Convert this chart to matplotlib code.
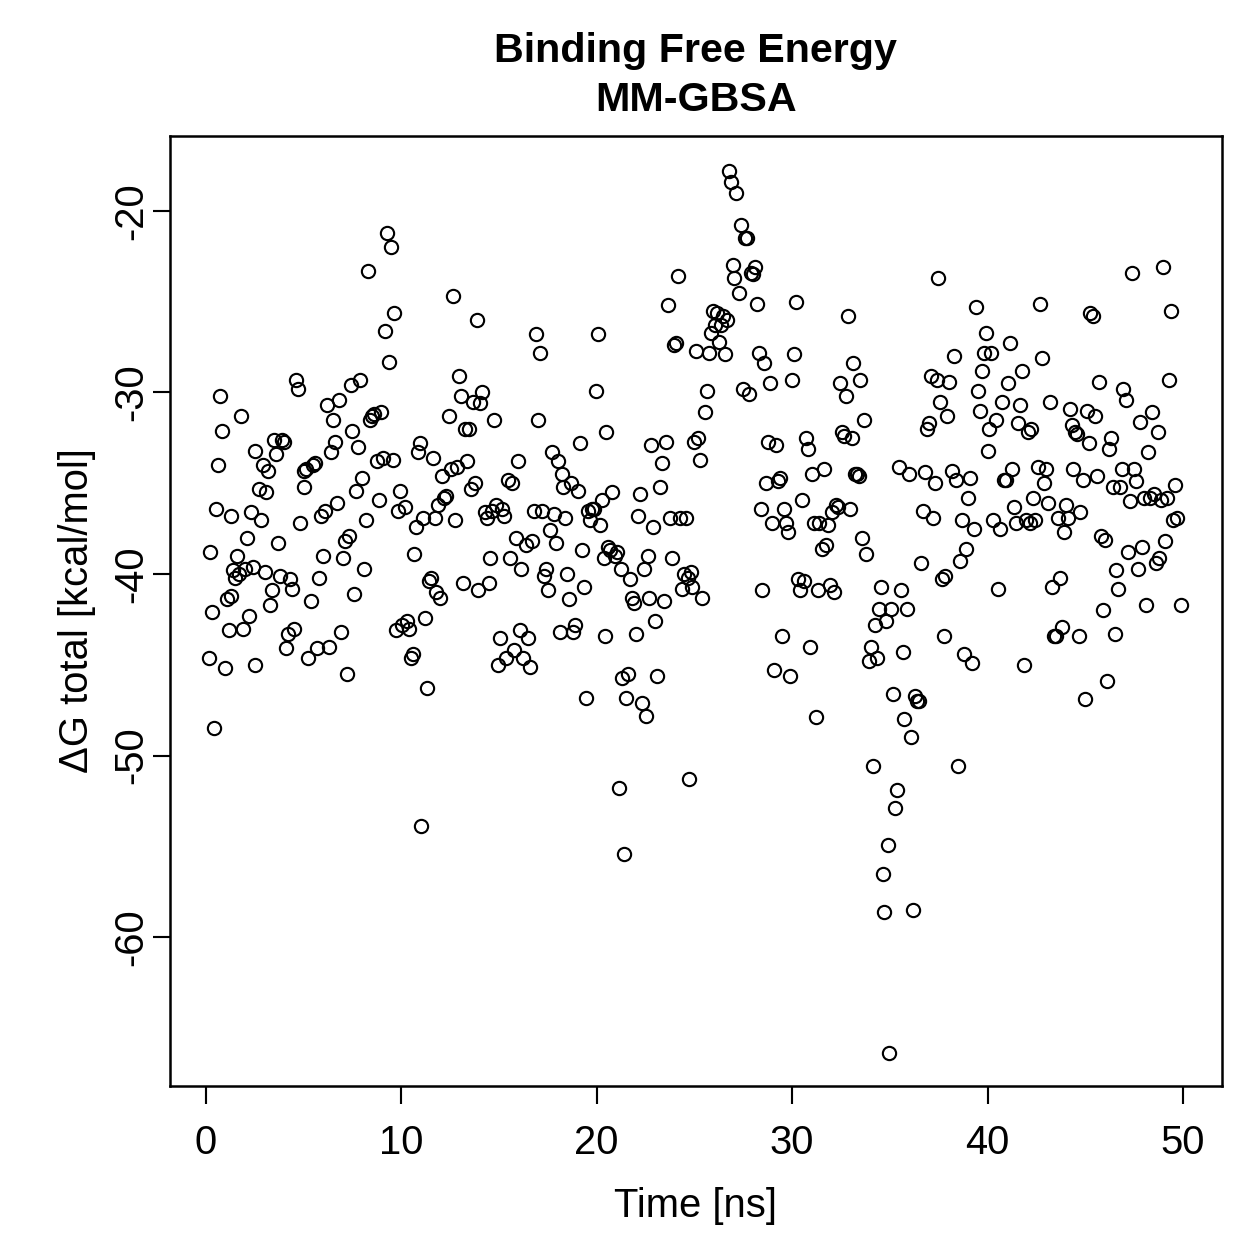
import matplotlib
matplotlib.use("Agg")
import matplotlib.pyplot as plt
import numpy as np

plt.rcParams['font.family'] = ['Liberation Sans', 'DejaVu Sans']

# time [ns] and binding free energy [kcal/mol]
time_ns = [
    0.15, 0.2, 0.3, 0.4, 0.5, 0.6, 0.7, 0.8, 1.0, 1.1, 1.2, 1.3, 1.3, 1.4, 1.5, 1.6, 1.7, 1.8, 1.9, 2.0,
    2.1, 2.2, 2.3, 2.4, 2.5, 2.5, 2.7, 2.8, 2.9, 3.0, 3.1, 3.2, 3.3, 3.4, 3.5, 3.6, 3.7, 3.8, 3.9, 4.0,
    4.1, 4.2, 4.3, 4.4, 4.5, 4.6, 4.7, 4.8, 5.0, 5.0, 5.1, 5.2, 5.4, 5.5, 5.6, 5.7, 5.8, 5.9, 6.0, 6.1,
    6.2, 6.3, 6.4, 6.5, 6.6, 6.7, 6.8, 6.9, 7.0, 7.1, 7.2, 7.3, 7.4, 7.5, 7.6, 7.7, 7.8, 7.9, 8.0, 8.1,
    8.2, 8.3, 8.4, 8.5, 8.6, 8.75, 8.85, 8.95, 9.05, 9.15, 9.25, 9.35, 9.45, 9.55, 9.65, 9.75, 9.85, 9.95,
    10.05, 10.2, 10.3, 10.4, 10.5, 10.6, 10.65, 10.75, 10.85, 10.95, 11.0, 11.1, 11.2, 11.3, 11.4, 11.5,
    11.6, 11.7, 11.8, 11.9, 12.0, 12.1, 12.2, 12.3, 12.45, 12.55, 12.65, 12.75, 12.85, 12.95, 13.05, 13.15,
    13.25, 13.35, 13.45, 13.55, 13.65, 13.75, 13.85, 13.95, 14.05, 14.15, 14.3, 14.4, 14.5, 14.55, 14.65,
    14.75, 14.85, 14.95, 15.05, 15.15, 15.25, 15.35, 15.45, 15.55, 15.65, 15.75, 15.85, 15.95, 16.05, 16.15,
    16.25, 16.4, 16.5, 16.6, 16.7, 16.8, 16.9, 17.0, 17.1, 17.2, 17.3, 17.4, 17.5, 17.6, 17.7, 17.8, 17.9,
    18.0, 18.1, 18.2, 18.3, 18.4, 18.5, 18.6, 18.7, 18.8, 18.9, 19.05, 19.15, 19.25, 19.35, 19.45, 19.55,
    19.65, 19.75, 19.85, 19.95, 20.05, 20.15, 20.25, 20.35, 20.4, 20.5, 20.6, 20.7, 20.8, 20.95, 21.05,
    21.15, 21.25, 21.3, 21.4, 21.5, 21.6, 21.7, 21.8, 21.9, 22.0, 22.1, 22.2, 22.3, 22.4, 22.5, 22.6, 22.7,
    22.8, 22.9, 23.0, 23.1, 23.25, 23.35, 23.45, 23.55, 23.65, 23.75, 23.85, 23.95, 24.05, 24.15, 24.25,
    24.35, 24.45, 24.55, 24.65, 24.7, 24.8, 24.9, 25.0, 25.1, 25.2, 25.3, 25.4, 25.55, 25.65, 25.75, 25.85,
    25.95, 26.05, 26.15, 26.25, 26.35, 26.45, 26.55, 26.65, 26.75, 26.85, 26.95, 27.05, 27.15, 27.3, 27.4,
    27.5, 27.6, 27.7, 27.8, 27.9, 28.0, 28.1, 28.2, 28.3, 28.4, 28.45, 28.55, 28.65, 28.75, 28.85, 28.95,
    29.05, 29.2, 29.3, 29.4, 29.5, 29.6, 29.7, 29.8, 29.9, 30.0, 30.1, 30.2, 30.3, 30.4, 30.5, 30.6, 30.7,
    30.8, 30.9, 31.0, 31.1, 31.2, 31.3, 31.4, 31.55, 31.65, 31.75, 31.85, 31.95, 32.05, 32.15, 32.25, 32.35,
    32.45, 32.55, 32.65, 32.75, 32.85, 32.95, 33.05, 33.1, 33.2, 33.3, 33.4, 33.5, 33.6, 33.7, 33.8, 33.95,
    34.05, 34.15, 34.25, 34.35, 34.45, 34.55, 34.65, 34.7, 34.8, 34.9, 34.95, 35.05, 35.15, 35.25, 35.35,
    35.45, 35.55, 35.65, 35.75, 35.9, 36.0, 36.1, 36.2, 36.3, 36.4, 36.5, 36.6, 36.7, 36.8, 36.9, 37.0,
    37.1, 37.2, 37.3, 37.4, 37.45, 37.55, 37.65, 37.75, 37.85, 37.95, 38.05, 38.2, 38.3, 38.4, 38.5, 38.6,
    38.7, 38.8, 38.9, 39.0, 39.1, 39.2, 39.3, 39.4, 39.5, 39.6, 39.7, 39.8, 39.9, 40.0, 40.1, 40.2, 40.3,
    40.45, 40.55, 40.65, 40.75, 40.85, 40.95, 41.05, 41.15, 41.25, 41.35, 41.45, 41.55, 41.65, 41.75, 41.85,
    41.95, 42.05, 42.15, 42.25, 42.35, 42.45, 42.6, 42.7, 42.8, 42.9, 43.0, 43.1, 43.2, 43.3, 43.4, 43.5,
    43.6, 43.7, 43.8, 43.9, 44.0, 44.1, 44.2, 44.3, 44.4, 44.5, 44.6, 44.7, 44.75, 44.9, 45.0, 45.1, 45.2,
    45.25, 45.4, 45.5, 45.6, 45.7, 45.8, 45.9, 46.0, 46.1, 46.2, 46.3, 46.4, 46.5, 46.6, 46.7, 46.8, 46.9,
    46.95, 47.1, 47.2, 47.3, 47.4, 47.5, 47.6, 47.7, 47.8, 47.9, 48.0, 48.1, 48.2, 48.3, 48.4, 48.5, 48.6,
    48.7, 48.8, 48.9, 49.0, 49.1, 49.2, 49.3, 49.4, 49.5, 49.6, 49.7, 49.9,
]

delta_g = [
    -44.6, -38.8, -42.1, -48.5, -36.4, -34.0, -30.2, -32.1, -45.2, -41.4, -43.1, -41.2, -36.8, -39.8, -40.2, -39.0, -40.0, -31.3, -43.0, -39.7,
    -38.0, -42.3, -36.6, -39.6, -33.2, -45.0, -35.3, -37.0, -34.0, -39.9, -35.5, -34.3, -41.7, -40.9, -32.6, -33.4, -38.3, -40.1, -32.6, -32.7,
    -44.1, -43.3, -40.3, -40.8, -43.0, -29.3, -29.8, -37.2, -35.2, -34.3, -34.2, -44.6, -41.5, -34.0, -33.9, -44.1, -40.2, -36.8, -39.0, -36.5,
    -30.7, -44.0, -33.3, -31.5, -32.7, -36.1, -30.4, -43.2, -39.1, -38.2, -45.5, -37.9, -29.6, -32.1, -41.1, -35.4, -33.0, -29.3, -34.7, -39.7,
    -37.0, -23.3, -31.5, -31.3, -31.2, -33.8, -35.9, -31.1, -33.6, -26.6, -21.2, -28.3, -22.0, -33.7, -25.6, -43.1, -36.5, -35.4,
    -42.8, -36.3, -42.6, -43.0, -44.6, -44.4, -38.9, -37.4, -33.3, -32.8, -53.9, -36.9, -42.4, -46.3, -40.4, -40.2,
    -33.6, -36.9, -41.0, -36.2, -41.3, -34.6, -35.8, -35.7, -31.3, -34.2, -24.7, -37.0, -34.1, -29.1, -30.2, -40.5,
    -32.0, -33.8, -32.0, -35.3, -30.5, -35.0, -26.0, -40.9, -30.6, -30.0, -36.6, -36.9, -40.5, -39.1, -36.5,
    -31.5, -36.2, -45.0, -43.5, -36.4, -36.8, -44.6, -34.8, -39.1, -35.0, -44.2, -38.0, -33.8, -43.1, -39.7,
    -44.6, -38.4, -43.5, -45.1, -38.2, -36.5, -26.8, -31.5, -27.8, -36.5, -40.1, -39.7, -40.9, -37.6, -33.3, -36.7, -38.3,
    -33.8, -43.2, -34.5, -35.2, -36.9, -40.0, -41.4, -35.0, -43.2, -42.8, -35.4, -32.8, -38.7, -40.7, -46.8, -36.5,
    -37.0, -36.4, -36.4, -29.9, -26.8, -37.3, -35.9, -39.1, -43.4, -32.2, -38.5, -38.7, -35.5, -39.0, -38.8,
    -51.8, -39.7, -45.7, -55.4, -46.8, -45.5, -40.3, -41.3, -41.6, -43.3, -36.8, -35.6, -47.1, -39.7, -47.8, -39.0, -41.3,
    -32.9, -37.4, -42.6, -45.6, -35.2, -33.9, -41.5, -32.7, -25.2, -36.9, -39.1, -27.4, -27.3, -23.6, -36.9,
    -40.8, -40.0, -36.9, -40.2, -51.3, -39.9, -40.7, -32.7, -27.7, -32.5, -33.7, -41.3, -31.1, -29.9, -27.8, -26.7,
    -25.5, -26.3, -25.6, -27.2, -26.3, -25.8, -27.9, -26.0, -17.8, -18.4, -23.0, -23.7, -19.0, -24.5, -20.8,
    -29.8, -21.5, -21.5, -30.1, -23.4, -23.5, -23.1, -25.1, -27.8, -36.4, -40.9, -28.4, -35.0, -32.7, -29.5, -37.2,
    -45.3, -32.9, -34.9, -34.7, -43.4, -36.4, -37.2, -37.7, -45.6, -29.3, -27.9, -25.0, -40.3, -40.9, -35.9, -40.4, -32.5,
    -33.1, -44.0, -34.5, -37.2, -47.9, -40.9, -37.2, -38.6, -34.2, -38.4, -37.3, -40.6, -36.6, -41.0, -36.2, -36.3,
    -29.5, -32.2, -32.4, -30.2, -25.8, -36.4, -32.5, -28.4, -34.5, -34.5, -34.6, -29.3, -38.0, -31.5, -38.9, -44.8,
    -44.0, -50.6, -42.8, -44.6, -41.9, -40.7, -56.5, -58.6, -42.6, -54.9, -66.4, -41.9, -46.6, -52.9, -51.9,
    -34.1, -40.9, -44.3, -48.0, -41.9, -34.5, -49.0, -58.5, -46.7, -47.0, -47.0, -39.4, -36.5, -34.4, -32.0, -31.7,
    -29.1, -36.9, -35.0, -29.3, -23.7, -30.5, -40.3, -43.4, -40.1, -31.3, -29.4, -34.3, -28.0, -34.8, -50.6, -39.3,
    -37.0, -44.4, -38.6, -35.8, -34.7, -44.9, -37.5, -25.3, -29.9, -31.0, -28.8, -27.8, -26.7, -33.2, -32.0, -27.8, -37.0,
    -31.5, -40.8, -37.5, -30.5, -34.8, -34.8, -29.5, -27.3, -34.2, -36.3, -37.2, -31.7, -30.7, -28.8, -45.0,
    -37.0, -32.2, -37.2, -32.0, -35.8, -37.0, -34.1, -25.1, -28.1, -35.0, -34.2, -36.1, -30.5, -40.7, -43.4, -43.4,
    -36.9, -40.2, -42.9, -37.7, -36.2, -36.9, -30.9, -31.8, -34.2, -32.2, -32.3, -43.4, -36.6, -34.8, -46.9, -31.0, -32.8,
    -25.6, -25.8, -31.3, -34.6, -29.4, -37.9, -42.0, -38.1, -45.9, -33.1, -32.5, -35.2, -43.3, -39.8, -40.8, -35.2, -34.2,
    -29.8, -30.4, -38.8, -36.0, -23.4, -34.2, -34.9, -39.7, -31.6, -38.5, -35.8, -41.7, -33.3, -35.8, -31.1, -35.6, -39.4,
    -32.2, -39.1, -35.9, -23.1, -38.2, -35.8, -29.3, -25.5, -37.0, -35.1, -36.9, -41.7,
]

x_ticks = [0, 10, 20, 30, 40, 50]
y_ticks = [-20, -30, -40, -50, -60]

fig = plt.figure(figsize=(1259 / 180, 1259 / 180), dpi=180)
ax = fig.add_axes([0.135, 0.1374, 0.8356, 0.7546])

ax.plot(time_ns, delta_g, linestyle='none', marker='o', markersize=5.3,
        markerfacecolor='none', markeredgecolor='black', markeredgewidth=0.85)

ax.set_xlim(-1.84, 52.0)
ax.set_ylim(-68.2, -15.87)
ax.set_xticks(x_ticks)
ax.set_yticks(y_ticks)
ax.set_yticklabels([str(v) for v in y_ticks], rotation=90, va='center')

ax.tick_params(direction='out', length=7, width=0.85, labelsize=16, colors='black')
ax.tick_params(axis='x', pad=8)
ax.tick_params(axis='y', pad=1)
for sp in ax.spines.values():
    sp.set_linewidth(1.0)

ax.set_xlabel('Time [ns]', fontsize=16, labelpad=10)
ax.set_ylabel('ΔG total [kcal/mol]', fontsize=16, labelpad=6.5)
ax.set_title('Binding Free Energy\nMM-GBSA', fontsize=16.5, fontweight='bold', pad=10, linespacing=1.35)

fig.savefig('out.png', dpi=180)
